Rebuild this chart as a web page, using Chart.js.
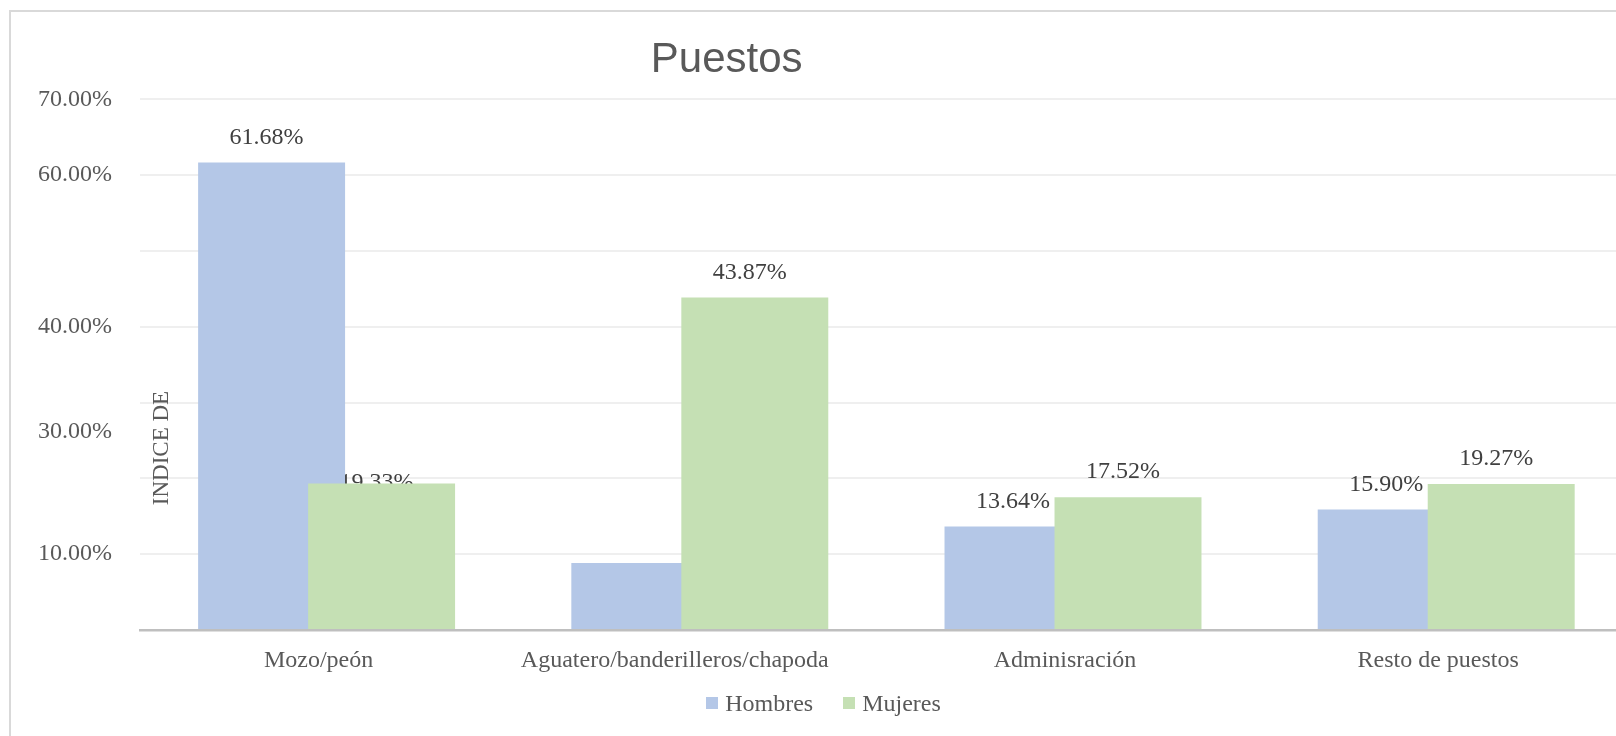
<!DOCTYPE html>
<html>
<head>
<meta charset="utf-8">
<script src="https://cdn.jsdelivr.net/npm/chart.js@4.4.0/dist/chart.umd.min.js"></script>
<style>
  html, body { margin: 0; padding: 0; background: #ffffff; overflow: hidden; width: 1616px; height: 736px; }
  #frame { position: absolute; left: 9px; top: 10px; width: 1700px; height: 800px; border: 2px solid #d9d9d9; box-sizing: border-box; }
  #c { position: absolute; left: 0; top: 0; }
  #legend { position: absolute; left: 0; top: 688px; width: 1647px; height: 30px; display: flex; justify-content: center; align-items: center;
            font-family: "Liberation Serif"; font-size: 24px; line-height: 30px; color: #595959; }
  #legend .item { display: flex; align-items: center; margin: 0 15px; }
  #legend .box { width: 12px; height: 12px; margin-right: 7px; }
</style>
</head>
<body>
<div id="frame"></div>
<canvas id="c" width="1660" height="736"></canvas>
<div id="legend"></div>
<script>
// ---- data ----
const chartTitle = 'Puestos';
const axisTitle = 'INDICE DE';
const categories = ['Mozo/peón', 'Aguatero/banderilleros/chapoda', 'Adminisración', 'Resto de puestos'];
const seriesNames = ['Hombres', 'Mujeres'];
const hombres = [61.68, 8.84, 13.64, 15.90];
const mujeres = [19.33, 43.87, 17.52, 19.27];
const gridValues = [0, 10, 20, 30, 40, 50, 60, 70];
const tickLabels = ['70.00%', '60.00%', '40.00%', '30.00%', '10.00%'];
const tickLabelValues = [70, 60, 40, 26.1, 10];

// ---- style ----
const serif = 'Liberation Serif';
const grey = '#595959';
const seriesColors = ['#b4c7e7', '#c5e0b4'];
const labelStyle = {
  color: '#404040',
  dx: -5,
  // lift of each data label above its bar (null = label hidden)
  lift: [[25, null, 25, 25], [0.5, 25, 25, 25]]
};
// extra horizontal shift of individual category labels (px)
const categoryLabelShift = [0, -17, 0, 0];

const dataLabels = {
  id: 'dataLabels',
  beforeDatasetsDraw(chart) {
    const ctx = chart.ctx;
    ctx.save();
    ctx.font = '24px "' + serif + '"';
    ctx.fillStyle = labelStyle.color;
    ctx.textAlign = 'center';
    ctx.textBaseline = 'middle';
    chart.data.datasets.forEach((ds, i) => {
      const meta = chart.getDatasetMeta(i);
      meta.data.forEach((bar, j) => {
        const lift = labelStyle.lift[i][j];
        if (lift === null) return;
        ctx.fillText(ds.data[j].toFixed(2) + '%', bar.x + labelStyle.dx, bar.y - lift);
      });
    });
    ctx.restore();
  }
};

const drawOrder = {
  id: 'drawOrder',
  beforeDatasetDraw(chart, args) {
    if (args.index === 1 && !chart.$late) return false;
  },
  afterDatasetsDraw(chart) {
    chart.$late = true;
    chart.getDatasetMeta(1).controller.draw();
    chart.$late = false;
  }
};

const shiftLabels = {
  id: 'shiftLabels',
  beforeDraw(chart) {
    try {
      const items = chart.scales.x.getLabelItems();
      items.forEach((it, i) => {
        if (!it.$shifted && categoryLabelShift[i]) {
          it.options.translation[0] += categoryLabelShift[i];
          it.$shifted = true;
        }
      });
    } catch (e) {}
  }
};

const extraText = {
  id: 'extraText',
  afterDraw(chart) {
    const ctx = chart.ctx;
    const a = chart.chartArea;
    const y = chart.scales.y;
    ctx.save();
    ctx.fillStyle = grey;
    ctx.font = '42px "Liberation Sans"';
    ctx.textAlign = 'center';
    ctx.textBaseline = 'alphabetic';
    ctx.fillText(chartTitle, 726.7, 71.7);
    ctx.translate(a.left + 21.5, y.getPixelForValue(24));
    ctx.rotate(-Math.PI / 2);
    ctx.font = '23px "' + serif + '"';
    ctx.textBaseline = 'middle';
    ctx.fillText(axisTitle, 0, 0);
    ctx.restore();
  }
};

// legend (HTML)
const legendEl = document.getElementById('legend');
seriesNames.forEach((name, i) => {
  const item = document.createElement('span');
  item.className = 'item';
  const box = document.createElement('span');
  box.className = 'box';
  box.style.background = seriesColors[i];
  const txt = document.createElement('span');
  txt.textContent = name;
  item.appendChild(box);
  item.appendChild(txt);
  legendEl.appendChild(item);
});

new Chart(document.getElementById('c'), {
  type: 'bar',
  data: {
    labels: categories,
    datasets: [
      { label: seriesNames[0], data: hombres, backgroundColor: seriesColors[0], borderWidth: 0 },
      { label: seriesNames[1], data: mujeres, backgroundColor: seriesColors[1], borderWidth: 0 }
    ]
  },
  options: {
    responsive: false,
    devicePixelRatio: 1,
    animation: false,
    categoryPercentage: 0.5895,
    barPercentage: 1.336,
    layout: { padding: { top: 99.3, left: 14, right: 27.2, bottom: 46 } },
    plugins: {
      title: { display: false },
      tooltip: { enabled: false },
      legend: { display: false }
    },
    scales: {
      x: {
        grid: { display: false, drawTicks: false },
        border: { display: true, color: '#bfbfbf', width: 2.5 },
        ticks: { color: grey, font: { family: serif, size: 24 }, padding: 16, labelOffset: -8, maxRotation: 0, autoSkip: false },
        afterFit: (s) => { s.height = 60; }
      },
      y: {
        min: 0, max: 70,
        afterBuildTicks: (s) => {
          const vals = gridValues.concat(tickLabelValues.filter(v => !gridValues.includes(v)));
          vals.sort((a, b) => a - b);
          s.ticks = vals.map(v => ({ value: v }));
        },
        ticks: {
          autoSkip: false,
          padding: 28,
          color: grey,
          font: { family: serif, size: 24 },
          callback: (v) => { const k = tickLabelValues.indexOf(v); return k >= 0 ? tickLabels[k] : ''; }
        },
        grid: {
          drawTicks: false,
          lineWidth: 2,
          color: (ctx) => (ctx.tick && gridValues.includes(ctx.tick.value)) ? '#efefef' : 'rgba(0,0,0,0)'
        },
        border: { display: false },
        afterFit: (s) => { s.width = 126; }
      }
    }
  },
  plugins: [dataLabels, drawOrder, shiftLabels, extraText]
});
</script>
</body>
</html>
